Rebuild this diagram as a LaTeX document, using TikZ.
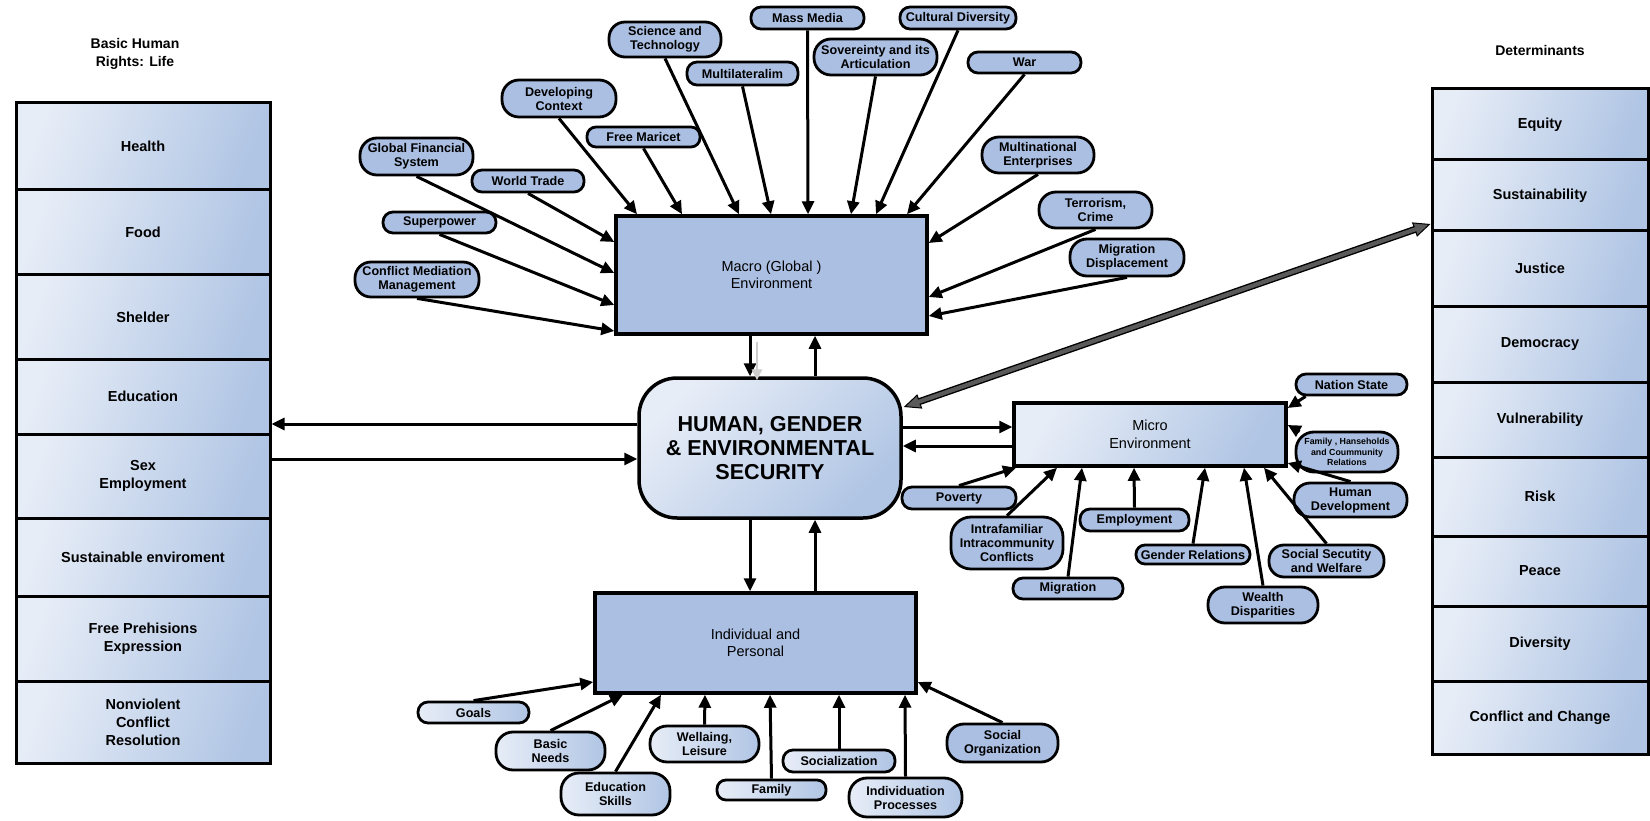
\documentclass[tikz,border=0pt]{standalone}
\usepackage{fontspec}
\setmainfont{Liberation Sans}
\usetikzlibrary{arrows.meta,calc}

\definecolor{boxblue}{RGB}{170,191,226}
\definecolor{shadelight}{RGB}{231,237,247}
\definecolor{shadeblue}{RGB}{176,197,228}
\definecolor{bandgray}{RGB}{90,90,90}
\definecolor{faintgray}{RGB}{205,205,205}

\newcommand{\pillfont}{\fontsize{12.6}{14}\selectfont\bfseries}
\newcommand{\tinypillfont}{\fontsize{8.8}{10.5}\selectfont\bfseries}
\newcommand{\cellfont}{\fontsize{14.5}{18}\selectfont\bfseries}
\newcommand{\boxfont}{\fontsize{14.5}{17.5}\selectfont}
\newcommand{\corefont}{\fontsize{21.6}{24}\selectfont\bfseries}
\newcommand{\headfont}{\fontsize{14}{18}\selectfont\bfseries}

\tikzset{
  cell/.style={draw, line width=3pt, top color=shadelight, bottom color=shadeblue,
    shading angle=70, font=\cellfont, inner sep=0pt, align=center},
  lcell/.style={cell, minimum width=254pt, minimum height=#1pt},
  rcell/.style={cell, minimum width=216pt, minimum height=#1pt},
  flatbox/.style={draw, line width=3.5pt, fill=boxblue, font=\boxfont, align=center, inner sep=0pt},
  pill/.style={draw, line width=2.8pt, fill=boxblue, font=\pillfont, align=center, inner sep=0pt},
  shadedpill/.style={pill, left color=shadelight, right color=shadeblue},
  sz/.style n args={3}{minimum width=#1pt, minimum height=#2pt, rounded corners=#3pt},
  arr/.style={line width=3pt, -{Triangle[length=13pt,width=12pt]}},
  head/.style={font=\headfont, align=center, inner sep=0pt},
}

\begin{document}
\begin{tikzpicture}[x=1pt,y=-1pt]
\useasboundingbox (0,0) rectangle (1650,821);

% ---------- left column: basic human rights ----------
\node[head] (lefthead) at (135,54) {Basic Human\\Rights: Life};
\node[lcell=87] (health) at (143,146.5) {Health};
\node[lcell=85] (food)   at (143,232.5) {Food};
\node[lcell=84] (shelt)  at (143,317)   {Shelder};
\node[lcell=75] (educ)   at (143,396.5) {Education};
\node[lcell=84] (sexemp) at (143,476)   {Sex\\Employment};
\node[lcell=78] (susenv) at (143,557)   {Sustainable enviroment};
\node[lcell=85] (freeex) at (143,638.5) {Free Prehisions\\Expression};
\node[lcell=82] (nonvio) at (143,722)   {Nonviolent\\Conflict\\Resolution};

% ---------- right column: determinants ----------
\node[head] (righthead) at (1540,50) {Determinants};
\node[rcell=71] (equity) at (1540,124.5) {Equity};
\node[rcell=71] (sust)   at (1540,195.5) {Sustainability};
\node[rcell=75] (just)   at (1540,268.5) {Justice};
\node[rcell=76] (demo)   at (1540,344)   {Democracy};
\node[rcell=75] (vuln)   at (1540,419.5) {Vulnerability};
\node[rcell=79] (risk)   at (1540,496.5) {Risk};
\node[rcell=70] (peace)  at (1540,571)   {Peace};
\node[rcell=75] (divers) at (1540,643.5) {Diversity};
\node[rcell=73] (confch) at (1540,717.5) {Conflict and Change};

% ---------- central boxes ----------
\node[flatbox, minimum width=311pt, minimum height=118pt] (macro) at (771.5,275)
  {Macro (Global )\\Environment};
\node[draw, line width=3.5pt, rounded corners=38pt, top color=shadelight, bottom color=shadeblue,
  shading angle=45, minimum width=262pt, minimum height=140pt, font=\corefont, align=center,
  inner sep=0pt] (human) at (770,448) {HUMAN, GENDER\\\& ENVIRONMENTAL\\SECURITY};
\node[draw, line width=3.5pt, top color=shadelight, bottom color=shadeblue, shading angle=60,
  minimum width=272pt, minimum height=63pt, font=\boxfont, align=center, inner sep=0pt]
  (micro) at (1150,434.5) {Micro\\Environment};
\node[flatbox, minimum width=321pt, minimum height=100pt] (indiv) at (755.5,643)
  {Individual and\\Personal};

% ---------- macro factors ----------
\node[pill, sz={113}{37}{17}] (gfs) at (416.5,156.5) {Global Financial\\System};
\node[pill, sz={112}{22}{10}] (wtr) at (528,181)     {World Trade};
\node[pill, sz={113}{21}{10}] (sup) at (439.5,222.5) {Superpower};
\node[pill, sz={124}{35}{16}] (cmm) at (417,279.5)   {Conflict Mediation\\Management};
\node[pill, sz={114}{37}{17}] (dev) at (559,98.5)    {Developing\\Context};
\node[pill, sz={113}{20}{9}]  (fmk) at (643.5,137)   {Free Maricet};
\node[pill, sz={112}{35}{16}] (sci) at (665,39.5)    {Science and\\Technology};
\node[pill, sz={111}{23}{10}] (mul) at (742.5,73.5)  {Multilateralim};
\node[pill, sz={113}{22}{10}] (mas) at (807.5,18)    {Mass Media};
\node[pill, sz={123}{36}{17}] (sov) at (875.5,57)    {Sovereinty and its\\Articulation};
\node[pill, sz={116}{22}{10}] (cul) at (958,18)      {Cultural Diversity};
\node[pill, sz={113}{21}{10}] (war) at (1024.5,62.5) {War};
\node[pill, sz={112}{36}{17}] (mne) at (1038,155)    {Multinational\\Enterprises};
\node[pill, sz={113}{36}{17}] (ter) at (1095.5,210)  {Terrorism,\\Crime};
\node[pill, sz={114}{37}{17}] (mid) at (1127,257.5)  {Migration\\Displacement};

\draw[arr] (gfs.south) -- (macro.west |- 0,273);
\draw[arr] (wtr.south) -- (macro.west |- 0,242);
\draw[arr] (sup.south) -- (macro.west |- 0,305);
\draw[arr] (cmm.south) -- (macro.west |- 0,331);
\draw[arr] (dev.south) -- (macro.north -| 637,0);
\draw[arr] (fmk.south) -- (macro.north -| 682,0);
\draw[arr] (sci.south) -- (macro.north -| 739,0);
\draw[arr] (mul.south) -- (macro.north -| 771,0);
\draw[arr] (mas.south) -- (macro.north -| 808,0);
\draw[arr] (sov.south) -- (macro.north -| 851,0);
\draw[arr] (cul.south) -- (macro.north -| 876,0);
\draw[arr] (war.south) -- (macro.north -| 907,0);
\draw[arr] (mne.south) -- (macro.east |- 0,243);
\draw[arr] (ter.south) -- (macro.east |- 0,297);
\draw[arr] (mid.south) -- (macro.east |- 0,316);

% ---------- micro factors ----------
\node[pill, sz={111}{21}{10}] (nst) at (1351.5,384.5) {Nation State};
\node[pill, sz={102}{40}{18}, font=\tinypillfont] (fhh) at (1347,452)
  {Family , Hanseholds\\and Coummunity\\Relations};
\node[pill, sz={113}{34}{16}] (hdv) at (1350.5,500)  {Human\\Development};
\node[pill, sz={115}{32}{15}] (ssw) at (1326.5,561)  {Social Secutity\\and Welfare};
\node[pill, sz={110}{36}{17}] (wdi) at (1263,605)    {Wealth\\Disparities};
\node[pill, sz={114}{19}{9}]  (gre) at (1193,554.5)  {Gender Relations};
\node[pill, sz={109}{22}{10}] (emp) at (1134.5,520)  {Employment};
\node[pill, sz={110}{21}{10}] (mig) at (1068,588.5)  {Migration};
\node[pill, sz={112}{52}{20}] (iic) at (1007,543)    {Intrafamiliar\\Intracommunity\\Conflicts};
\node[pill, sz={114}{22}{10}] (pov) at (959,498)     {Poverty};

\draw[arr] ([xshift=11pt]nst.south west) -- (micro.east |- 0,408);
\draw[arr] ([xshift=5pt,yshift=-1pt]fhh.north west) -- (micro.east |- 0,425);
\draw[arr] (hdv.north) -- (micro.east |- 0,463);
\draw[arr] (ssw.north) -- (micro.south -| 1264,0);
\draw[arr] (wdi.north) -- (micro.south -| 1244,0);
\draw[arr] (gre.north) -- (micro.south -| 1205,0);
\draw[arr] (emp.north) -- (micro.south -| 1134,0);
\draw[arr] (mig.north) -- (micro.south -| 1082,0);
\draw[arr] (iic.north) -- (micro.south -| 1057,0);
\draw[arr] (pov.north) -- (micro.south -| 1016,0);

% ---------- individual factors ----------
\node[shadedpill, sz={111}{21}{10}] (gol) at (473.5,712.5) {Goals};
\node[shadedpill, sz={109}{38}{17}] (bnd) at (550.5,751)   {Basic\\Needs};
\node[shadedpill, sz={109}{42}{18}] (eds) at (615.5,794)   {Education\\Skills};
\node[shadedpill, sz={109}{36}{17}] (wel) at (704.5,744)   {Wellaing,\\Leisure};
\node[shadedpill, sz={109}{20}{9}]  (fam) at (771.5,790)   {Family};
\node[shadedpill, sz={112}{22}{10}] (soc) at (839,761)     {Socialization};
\node[shadedpill, sz={113}{39}{18}] (ind) at (905.5,797.5) {Individuation\\Processes};
\node[pill, sz={111}{38}{17}]       (sor) at (1002.5,743)  {Social\\Organization};

\draw[arr] (gol.north) -- (indiv.west |- 0,682);
\draw[arr] (bnd.north) -- (indiv.south -| 623,0);
\draw[arr] (eds.north) -- (indiv.south -| 661,0);
\draw[arr] (wel.north) -- (indiv.south -| 705,0);
\draw[arr] (fam.north) -- (indiv.south -| 770,0);
\draw[arr] (soc.north) -- (indiv.south -| 839,0);
\draw[arr] (ind.north) -- (indiv.south -| 905,0);
\draw[arr] (sor.north) -- (indiv.east |- 0,682);

% ---------- links of the core box ----------
\draw[arr] (macro.south -| 750,0) -- (human.north -| 750,0);
\draw[line width=2.5pt, faintgray, -{Triangle[length=11pt,width=10pt]}]
  ($(macro.south -| 757,0)+(0,6)$) -- ($(human.north -| 757,0)+(0,4)$);
\draw[arr] (human.north -| 815,0) -- (macro.south -| 815,0);
\draw[arr] (human.south -| 750,0) -- (indiv.north -| 750,0);
\draw[arr] (indiv.north -| 815,0) -- (human.south -| 815,0);

\draw[arr] (human.west |- 0,424) -- (educ.east |- 0,424);
\draw[arr] (sexemp.east |- 0,459) -- (human.west |- 0,459);

\draw[arr] (human.east |- 0,427) -- (micro.west |- 0,427);
\draw[arr] (micro.west |- 0,446) -- (human.east |- 0,446);

% two-headed grey band to the determinants
\coordinate (bandA) at ($(human.east |- 0,407)+(1,0)$);
\coordinate (bandB) at (sust.west |- 0,224);
\draw[line width=1pt,
  {Triangle[length=17pt,width=15pt,fill=bandgray]}-{Triangle[length=17pt,width=15pt,fill=bandgray]}]
  (bandA) -- (bandB);
\draw[line width=7pt, shorten <=16pt, shorten >=16pt] (bandA) -- (bandB);
\draw[line width=4.2pt, bandgray, shorten <=15pt, shorten >=15pt] (bandA) -- (bandB);

\end{tikzpicture}
\end{document}
